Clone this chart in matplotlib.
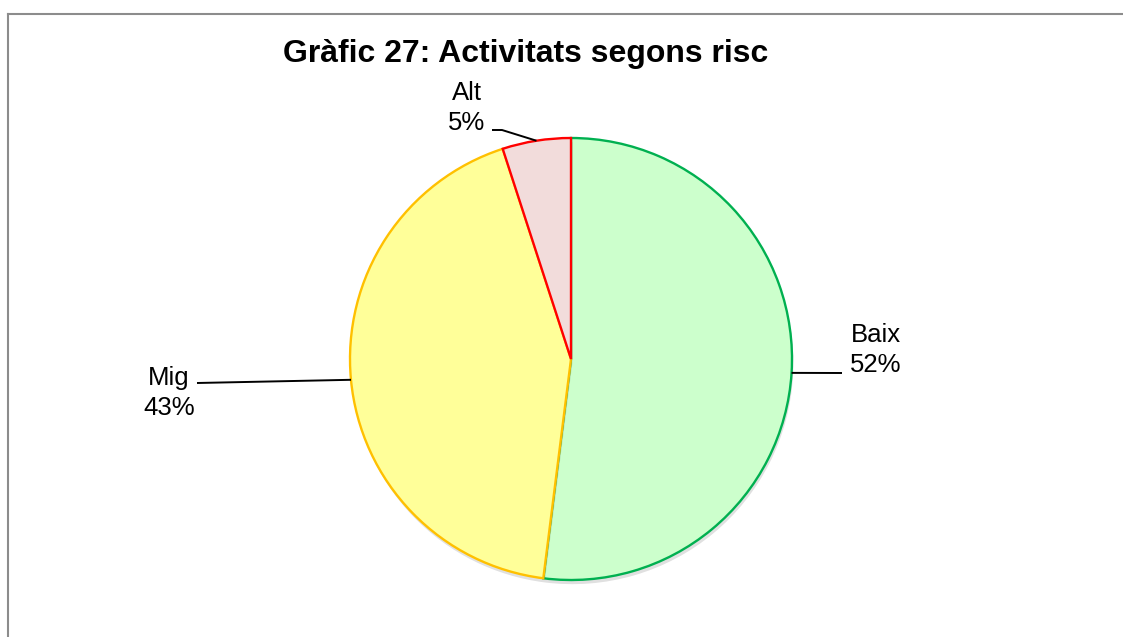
""" Pie chart: activitats segons risc
"""

import matplotlib
matplotlib.use('Agg')
import matplotlib.pyplot as plt
import matplotlib.patheffects as pe
from matplotlib.lines import Line2D
import numpy as np

plt.rcParams['font.family'] = ['Liberation Sans', 'DejaVu Sans']

labels = ['Baix', 'Mig', 'Alt']
values = [52, 43, 5]
fills = ['#CCFFCC', '#FFFF99', '#F2DCDB']
edges = ['#00B050', '#FFC000', '#FF0000']

W, H = 1123, 637
cx, cy, r = 571, 359, 221  # pie centre / radius in pixels (from top-left)


def to_data(px, py):
    return (px - cx) / r, (cy - py) / r


fig = plt.figure(figsize=(W / 100, H / 100), dpi=100)
ax = fig.add_axes([0, 0, 1, 1])

wedges, _ = ax.pie(values, colors=fills, startangle=90, counterclock=False,
                   radius=1, wedgeprops=dict(linewidth=1.7))
for w, ec in zip(wedges, edges):
    w.set_edgecolor(ec)
    w.set_path_effects([pe.SimplePatchShadow(offset=(1, -3), alpha=0.12,
                                             shadow_rgbFace='k'),
                        pe.Normal()])

# pie() resets the limits, so set them afterwards
ax.set_xlim(-cx / r, (W - cx) / r)
ax.set_ylim(-(H - cy) / r, cy / r)
ax.set_aspect('equal')
ax.axis('off')

# label text centres and leader-line ends (pixels)
text_pos = {'Baix': (876, 350), 'Mig': (169, 393), 'Alt': (467, 108)}
leader_end = {'Baix': [(842, 373)], 'Mig': [(197, 383)],
              'Alt': [(502, 130), (492, 130)]}

for w, lab, v in zip(wedges, labels, values):
    mid = np.deg2rad((w.theta1 + w.theta2) / 2)
    px, py = np.cos(mid), np.sin(mid)
    pts = [(px, py)] + [to_data(*p) for p in leader_end[lab]]
    xs, ys = zip(*pts)
    ax.plot(xs, ys, color='black', lw=1.4, solid_capstyle='butt')
    tx, ty = to_data(*text_pos[lab])
    ax.text(tx, ty, '{}\n{}%'.format(lab, v), ha='center', va='center',
            multialignment='center', fontsize=18.5, linespacing=1.32)

fig.text(526 / W, 1 - 54 / H, 'Gràfic 27: Activitats segons risc',
         ha='center', va='center', fontsize=23, fontweight='bold')

# chart frame (only top and left edges visible)
fig.add_artist(Line2D([7.5 / W, 1], [1 - 13.5 / H] * 2, color='#8c8c8c',
                      lw=1.5, transform=fig.transFigure))
fig.add_artist(Line2D([7.5 / W] * 2, [0, 1 - 13.5 / H], color='#8c8c8c',
                      lw=1.5, transform=fig.transFigure))

fig.savefig('out.png', dpi=100)
